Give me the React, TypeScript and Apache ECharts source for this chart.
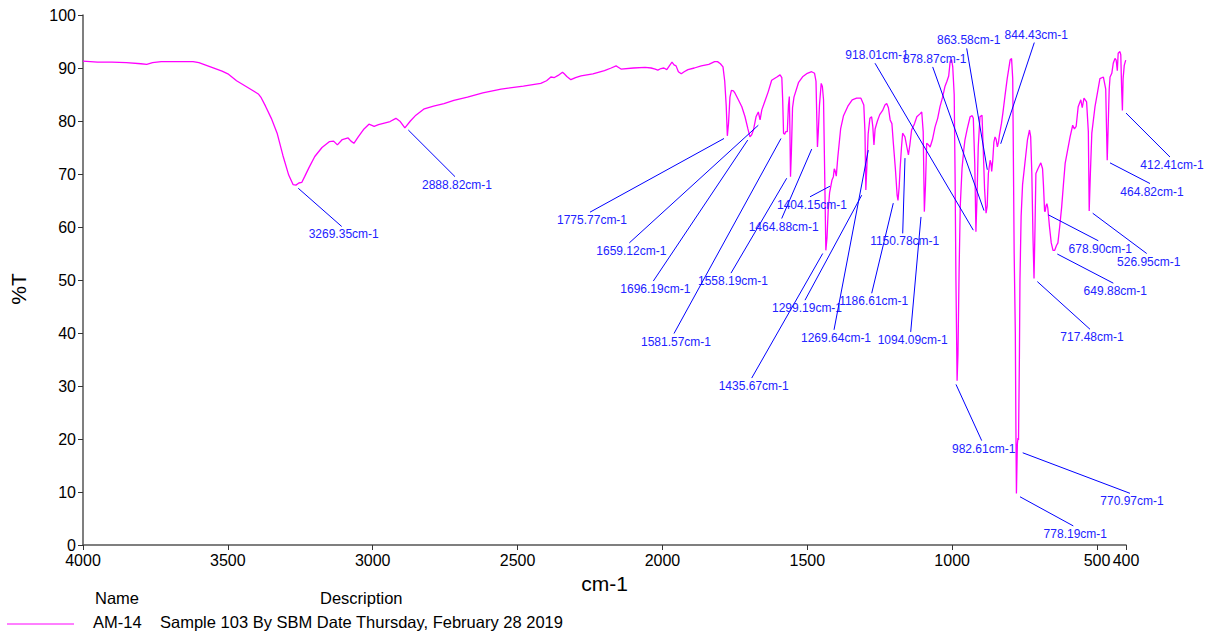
import React, { useEffect, useRef } from 'react';
import * as echarts from 'echarts';

const FONT = 'Liberation Sans, Arial, Helvetica, sans-serif';

// IR spectrum: [wavenumber (cm-1), %T]
const spectrum: [number, number][] = [
  [4000,91.3],[3950,91.1],[3900,91.1],[3850,91.0],[3800,90.8],[3780,90.7],[3760,91.0],[3730,91.2],[3680,91.2],[3620,91.2],
  [3600,91.0],[3560,90.2],[3520,89.4],[3500,88.9],[3470,87.6],[3440,86.6],[3410,85.6],[3395,85.1],[3385,84.4],[3370,82.8],
  [3350,80.5],[3330,77.7],[3310,73.5],[3290,69.8],[3275,68.0],[3265,67.9],[3255,68.3],[3245,68.4],[3235,69.5],[3220,71.2],
  [3200,73.3],[3175,75.0],[3150,76.1],[3135,76.2],[3122,75.5],[3105,76.5],[3085,76.8],[3075,76.2],[3065,75.8],[3050,77.0],
  [3030,78.5],[3013,79.4],[2995,79.0],[2980,79.3],[2960,79.6],[2940,79.9],[2920,80.5],[2905,79.9],[2889,78.7],[2870,80.0],
  [2851,81.1],[2822,82.3],[2790,82.8],[2754,83.3],[2720,83.9],[2673,84.5],[2620,85.3],[2557,86.0],[2480,86.6],[2420,87.1],
  [2400,87.6],[2385,88.3],[2373,88.2],[2360,88.6],[2345,89.2],[2339,88.9],[2330,88.4],[2316,87.8],[2300,88.2],[2281,88.5],
  [2240,88.9],[2200,89.5],[2177,90.0],[2160,90.4],[2154,90.2],[2143,89.8],[2100,90.0],[2060,90.1],[2039,90.0],[2025,89.8],
  [2016,89.6],[2005,89.9],[1995,90.0],[1985,89.7],[1975,90.5],[1967,91.1],[1960,90.6],[1953,90.4],[1945,89.3],[1935,88.9],
  [1925,89.3],[1912,89.7],[1890,90.0],[1866,90.4],[1840,90.7],[1820,91.2],[1810,91.2],[1800,90.8],[1791,90.2],[1785,87.5],
  [1780,83.0],[1776,77.2],[1772,79.5],[1767,84.5],[1762,85.8],[1755,85.7],[1749,85.2],[1738,84.0],[1726,82.7],[1715,80.8],
  [1705,78.5],[1698,77.0],[1692,77.4],[1686,78.3],[1677,80.8],[1669,81.7],[1663,80.2],[1657,82.1],[1648,83.5],[1635,85.5],
  [1623,87.7],[1605,88.3],[1594,88.7],[1588,88.2],[1585,84.0],[1582,77.7],[1578,77.5],[1574,78.0],[1569,78.0],[1565,83.0],
  [1562,84.6],[1560,78.0],[1558,69.5],[1555,74.0],[1551,82.5],[1546,84.5],[1530,87.3],[1515,88.4],[1500,89.0],[1485,89.3],
  [1475,89.0],[1470,87.5],[1467,80.0],[1465,75.1],[1462,78.0],[1458,83.0],[1452,87.1],[1448,86.5],[1444,84.0],[1440,70.0],
  [1436,55.6],[1432,58.0],[1428,63.0],[1423,66.5],[1415,68.8],[1410,69.5],[1407,71.0],[1404,70.6],[1400,69.6],[1395,73.0],
  [1385,78.5],[1375,81.0],[1360,82.8],[1345,84.0],[1330,84.3],[1315,84.3],[1305,83.0],[1301,78.0],[1298,67.0],[1294,72.0],
  [1290,77.5],[1284,80.5],[1278,80.8],[1274,79.0],[1270,75.5],[1266,78.5],[1258,80.0],[1250,81.2],[1240,82.0],[1232,83.0],
  [1226,83.3],[1220,82.5],[1214,80.2],[1208,79.5],[1203,75.8],[1196,71.0],[1190,66.0],[1187,65.0],[1183,67.5],[1180,70.7],
  [1175,75.0],[1171,77.7],[1163,77.0],[1156,75.0],[1151,73.6],[1146,75.5],[1140,78.3],[1130,79.5],[1122,80.8],[1112,81.3],
  [1105,81.7],[1100,78.0],[1096,62.9],[1092,68.0],[1088,75.8],[1082,75.5],[1076,75.1],[1068,76.5],[1059,78.9],[1050,80.5],
  [1042,82.7],[1033,84.5],[1025,86.5],[1018,87.5],[1012,88.5],[1007,91.2],[1002,91.6],[998,90.2],[993,85.0],[990,70.0],
  [987,50.0],[983,31.0],[980,36.0],[976,52.0],[972,64.0],[966,71.0],[960,74.5],[956,76.4],[948,78.5],[938,80.8],
  [931,81.0],[927,80.5],[922,72.0],[918,59.1],[914,66.0],[910,75.1],[904,80.8],[897,81.1],[893,75.0],[888,67.0],
  [883,62.6],[879,64.0],[875,70.1],[869,72.6],[866,72.0],[863.6,70.5],[860,72.5],[856,76.0],[852,77.0],[848,76.5],
  [844,75.1],[840,76.0],[837,77.3],[830,79.5],[825,81.5],[818,84.6],[810,88.0],[800,91.5],[795,91.8],[791,88.0],
  [789,75.0],[786,55.0],[782,40.0],[780,22.0],[778.2,9.7],[775,19.0],[773,20.2],[771,19.8],[768,35.0],[766,50.0],
  [762,62.0],[757,68.0],[749,72.0],[740,76.5],[733,78.3],[729,77.0],[725,70.0],[721,58.0],[717.5,50.3],[714,60.0],
  [711,70.1],[704,71.0],[697,71.8],[694,72.1],[688,71.0],[685,68.0],[681,63.0],[679,62.9],[676,64.0],[673,64.4],
  [670,63.6],[664,60.0],[658,57.0],[652,55.6],[646,55.6],[640,56.5],[635,57.0],[629,60.0],[622,63.8],[616,68.0],
  [610,72.0],[593,77.0],[584,79.2],[578,78.5],[572,79.0],[565,82.7],[556,84.0],[551,82.5],[545,84.3],[536,83.6],
  [530,78.0],[527,63.0],[523,70.0],[518,77.7],[507,82.7],[498,85.5],[490,88.0],[478,88.3],[470,86.0],[467,78.0],
  [464.8,72.6],[462,78.0],[458,86.0],[455,88.3],[449,89.0],[444,90.9],[438,91.8],[434,91.5],[430,89.5],[427,92.8],
  [421,93.1],[418,92.5],[415,86.0],[412.4,82.0],[410,88.0],[406,90.5],[401,91.5],[400,91.6]
];

const xTicks = [4000, 3500, 3000, 2500, 2000, 1500, 1000, 500, 400];

// Peak annotations: label, leader start [cm-1, %T], leader end [cm-1, %T], label side
const peakLabels = [
  '3269.35cm-1','2888.82cm-1','1775.77cm-1','1659.12cm-1','1696.19cm-1','1558.19cm-1','1581.57cm-1',
  '1464.88cm-1','1404.15cm-1','1435.67cm-1','1299.19cm-1','1269.64cm-1','1186.61cm-1','1150.78cm-1',
  '1094.09cm-1','982.61cm-1','770.97cm-1','778.19cm-1','717.48cm-1','649.88cm-1','678.90cm-1',
  '526.95cm-1','464.82cm-1','412.41cm-1','918.01cm-1','878.87cm-1','863.58cm-1','844.43cm-1'
];
const leaderFrom: [number, number][] = [
  [3256.9,67.3],[2877.2,78.3],[1787.5,76.7],[1669.1,79.2],[1705.7,76.4],[1571.1,69.2],[1590.8,76.7],
  [1484.8,74.7],[1421.7,67.7],[1446.8,55.0],[1312.2,66.0],[1289.5,74.5],[1203.2,64.5],[1162.8,73.0],
  [1107.6,61.9],[986.8,30.3],[756.5,17.4],[765.9,9.1],[706.1,49.7],[637.1,54.9],[668.2,62.3],
  [514.9,62.6],[455.2,72.1],[400.0,81.5],[927.0,59.4],[890.1,63.1],[878.7,70.8],[832.5,75.7]
];
const leaderTo: [number, number][] = [
  [3107.1,60.1],[2716.0,69.5],[2250.0,62.8],[2114.4,57.0],[2031.5,49.8],[1763.4,51.3],[1960.1,39.9],
  [1588.4,61.6],[1490.7,65.7],[1691.9,31.5],[1507.9,46.2],[1407.8,40.6],[1277.7,47.5],[1170.7,58.8],
  [1143.1,40.2],[898.1,19.7],[386.2,9.75],[581.9,3.6],[524.2,40.7],[443.8,49.4],[495.6,57.4],
  [328.5,55.0],[317.1,68.2],[248.1,73.2],[1266.3,90.9],[1067.2,90.2],[949.8,93.7],[716.5,94.8]
];
const labelAbove = [
  false,false,false,false,false,false,false,false,false,false,false,false,false,false,
  false,false,false,false,false,false,false,false,false,false,true,true,true,true
];

const legendName = 'AM-14';
const legendDescription = 'Sample 103 By SBM Date Thursday, February 28 2019';

export default function App() {
  const ref = useRef<HTMLDivElement>(null);
  useEffect(() => {
    if (!ref.current) return;
    const chart = echarts.init(ref.current, null, { renderer: 'svg' });
    const option: any = {
      animation: false,
      backgroundColor: '#ffffff',
      grid: { left: 83, right: 86, top: 15, bottom: 92, containLabel: false, outerBoundsMode: 'none' },
      xAxis: {
        type: 'value', inverse: true, min: 400, max: 4000,
        name: 'cm-1', nameLocation: 'middle', nameGap: 23,
        nameTextStyle: { fontSize: 21, color: '#000', fontFamily: FONT },
        axisLine: { show: true, lineStyle: { color: '#555', width: 1.5 } },
        axisTick: { show: true, inside: false, length: 5, customValues: xTicks, lineStyle: { color: '#333' } },
        axisLabel: { customValues: xTicks, fontSize: 16, color: '#000', margin: 7, fontFamily: FONT, formatter: (v: number) => String(v) },
        splitLine: { show: false }
      },
      yAxis: {
        type: 'value', min: 0, max: 100, interval: 10,
        name: '%T', nameLocation: 'middle', nameGap: 54,
        nameTextStyle: { fontSize: 21, color: '#000', fontFamily: FONT, padding: [0, 18, 0, 0] },
        axisLine: { show: true, lineStyle: { color: '#555', width: 1.5 } },
        axisTick: { show: true, inside: false, length: 5, lineStyle: { color: '#333' } },
        axisLabel: { fontSize: 16, color: '#000', margin: 7, fontFamily: FONT },
        splitLine: { show: false }
      },
      series: [
        {
          type: 'line', data: spectrum, showSymbol: false, symbol: 'none',
          lineStyle: { color: '#ff00ff', width: 1.3 }, z: 2, silent: true
        },
        {
          type: 'custom', silent: true, z: 3, clip: false,
          encode: { x: [0, 2], y: [1, 3] },
          data: peakLabels.map((_, i) => [leaderFrom[i][0], leaderFrom[i][1], leaderTo[i][0], leaderTo[i][1]]),
          renderItem: (params: any, api: any) => {
            const i = params.dataIndex;
            const a = api.coord([api.value(0), api.value(1)]);
            const b = api.coord([api.value(2), api.value(3)]);
            const up = labelAbove[i];
            return {
              type: 'group',
              children: [
                { type: 'line', shape: { x1: a[0], y1: a[1], x2: b[0], y2: b[1] }, style: { stroke: '#0000ff', lineWidth: 1 } },
                {
                  type: 'text', x: b[0] + 2, y: b[1] + (up ? -8 : 8),
                  style: { text: peakLabels[i], fontSize: 12, fontFamily: FONT, fill: '#2222ff', align: 'center', verticalAlign: 'middle' }
                }
              ]
            };
          }
        }
      ],
      graphic: [
        { type: 'text', x: 95, y: 598, style: { text: 'Name', fontSize: 16.5, fontFamily: FONT, fill: '#000', verticalAlign: 'middle' } },
        { type: 'text', x: 320, y: 598, style: { text: 'Description', fontSize: 16.5, fontFamily: FONT, fill: '#000', verticalAlign: 'middle' } },
        { type: 'line', shape: { x1: 7, y1: 624, x2: 74, y2: 624 }, style: { stroke: '#ff00ff', lineWidth: 1 } },
        { type: 'text', x: 93, y: 622, style: { text: legendName, fontSize: 16.5, fontFamily: FONT, fill: '#000', verticalAlign: 'middle' } },
        { type: 'text', x: 160, y: 622, style: { text: legendDescription, fontSize: 16.5, fontFamily: FONT, fill: '#000', verticalAlign: 'middle' } }
      ]
    };
    chart.setOption(option);
    return () => { chart.dispose(); };
  }, []);
  return <div ref={ref} style={{ position: 'fixed', left: 0, top: 0, width: 1212, height: 637, background: '#fff' }} />;
}
